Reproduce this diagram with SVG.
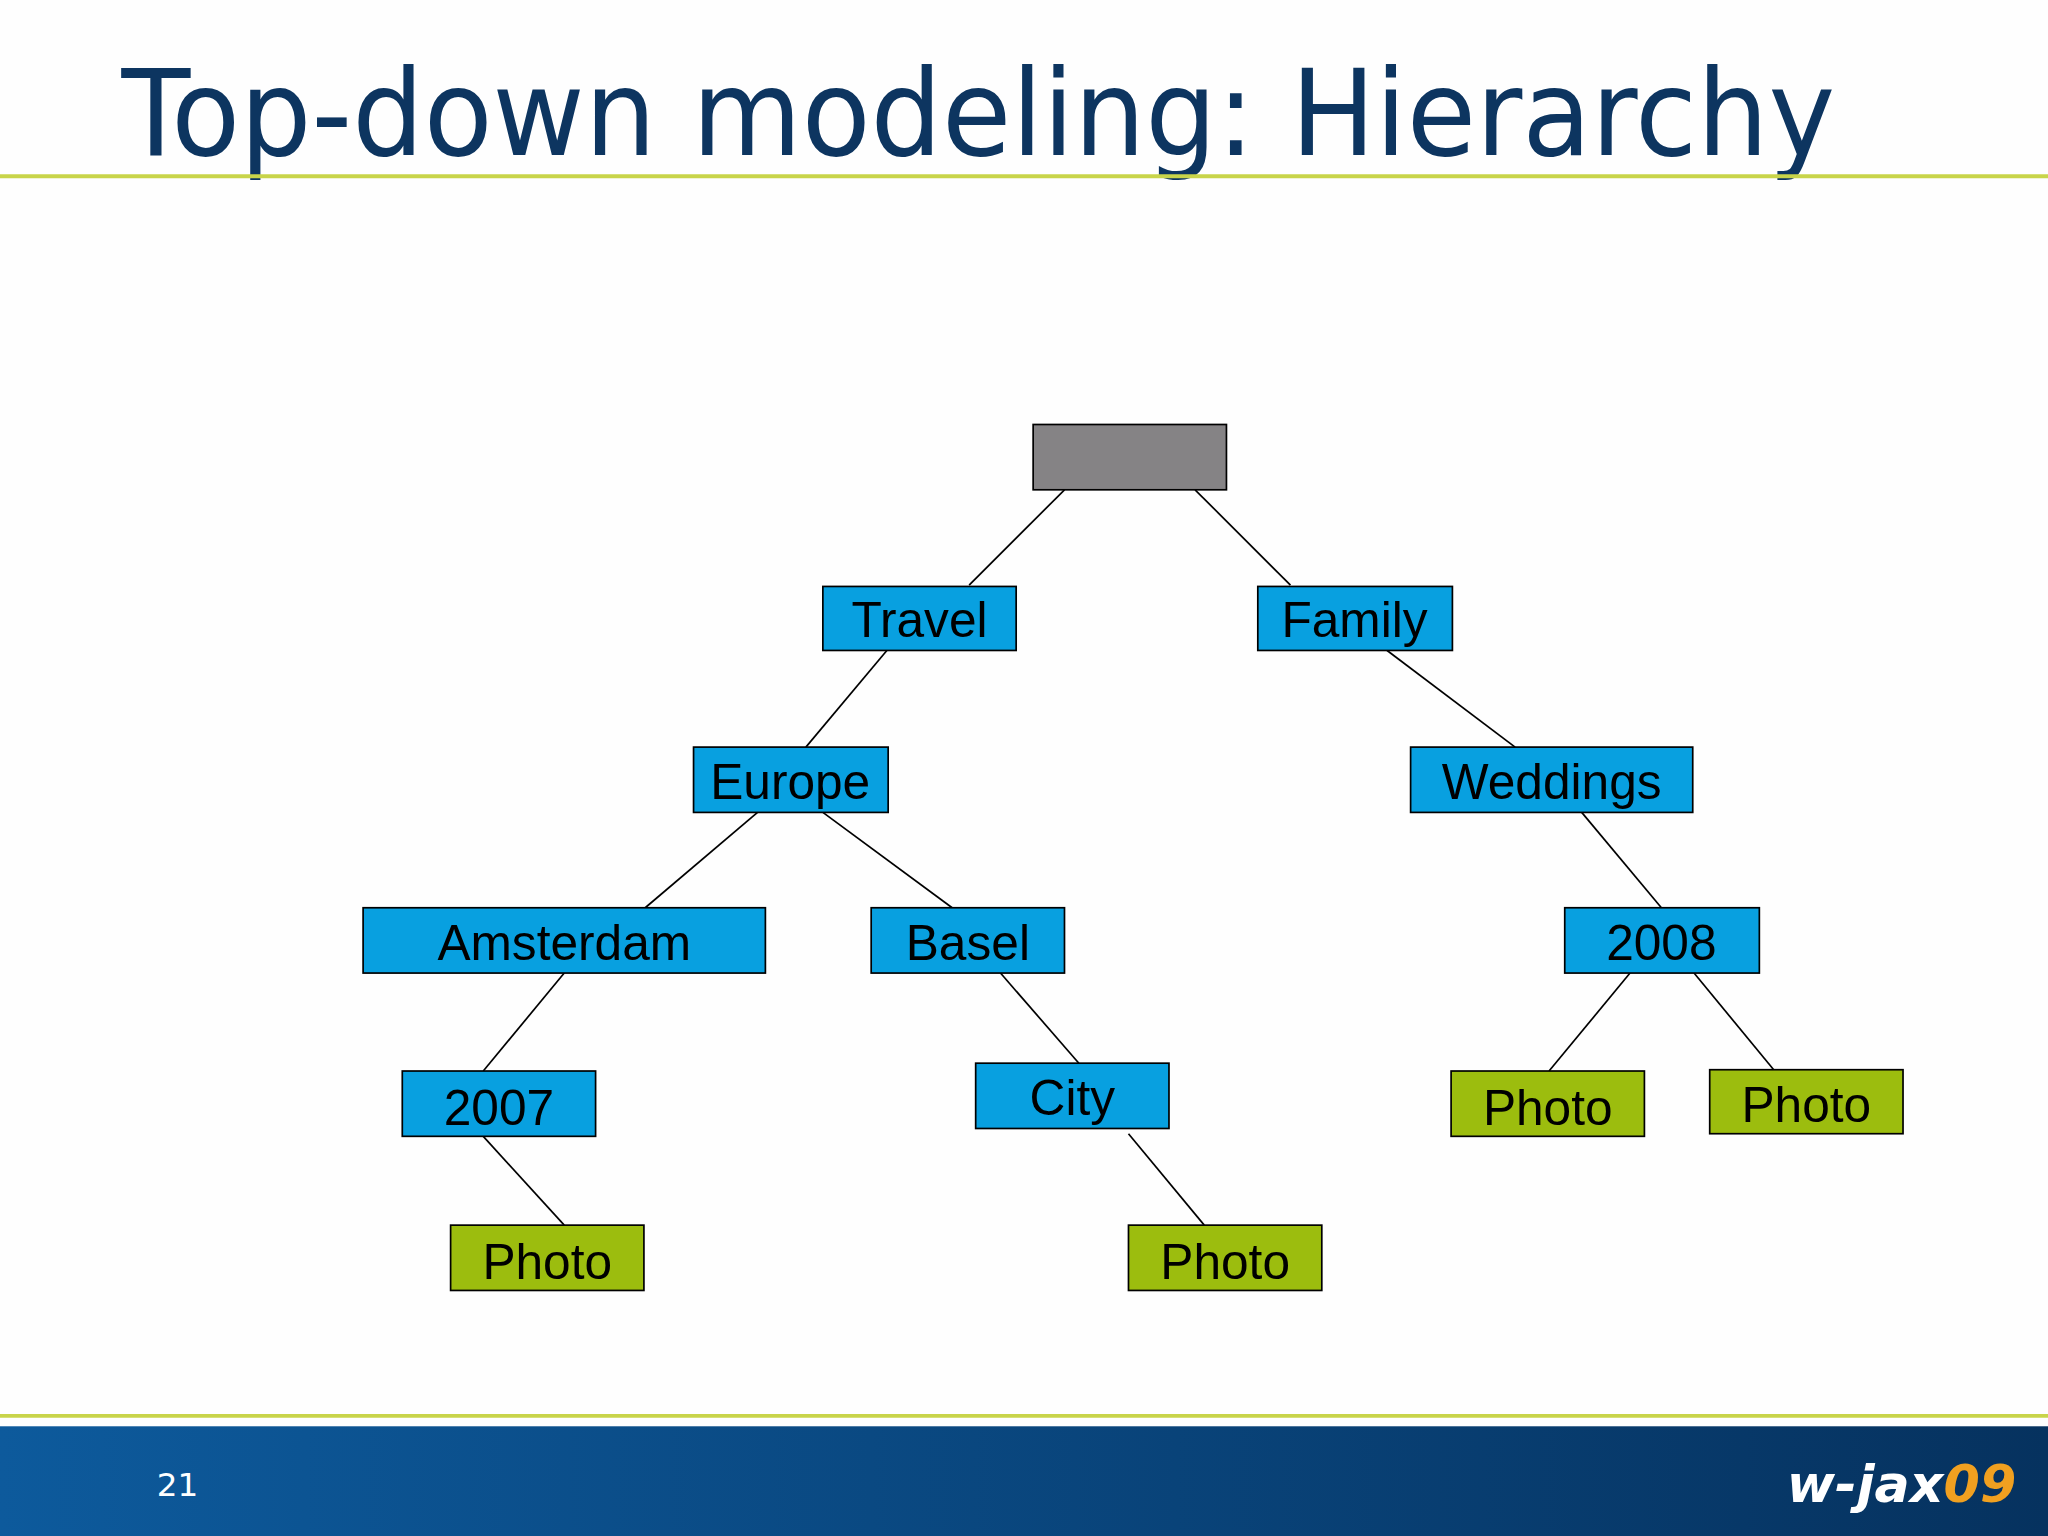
<svg xmlns="http://www.w3.org/2000/svg" width="2048" height="1536" viewBox="0 0 2048 1536">
<defs>
<linearGradient id="band" x1="0" x2="1" y1="0" y2="0"><stop offset="0" stop-color="#0d5a9c"/><stop offset="1" stop-color="#06325f"/></linearGradient>
<style>
.b rect{fill:#08a0e0;stroke:#000;stroke-width:1.3}
.g rect{fill:#9cbd0e;stroke:#000;stroke-width:1.3}
text.t{font-family:"Liberation Sans",Arial,sans-serif;font-size:38px;fill:#000;text-anchor:middle}
#connectors line{stroke:#000;stroke-width:1.3}
</style>
</defs>
<rect width="2048" height="1536" fill="#fefefe"/>
<g transform="scale(1.306122)">
<text x="93" y="119" font-family="DejaVu Sans,Verdana,sans-serif" font-size="92" fill="#0d3560" textLength="1312" lengthAdjust="spacingAndGlyphs">Top-down modeling: Hierarchy</text>
<line x1="0" y1="135" x2="1568" y2="135" stroke="#c8d44a" stroke-width="3"/>
<line x1="0" y1="1084" x2="1568" y2="1084" stroke="#c8d44a" stroke-width="3"/>
<rect x="0" y="1092" width="1568" height="84" fill="url(#band)"/>
<text x="120" y="1145" font-family="DejaVu Sans,sans-serif" font-size="25" fill="#fff">21</text>
<text x="1368" y="1150" font-family="DejaVu Sans,sans-serif" font-weight="bold" font-style="italic" font-size="40" fill="#fff">w-jax<tspan fill="#f0a020">09</tspan></text>
<g id="connectors">
<line x1="815" y1="375" x2="742" y2="448"/><line x1="915" y1="375" x2="988" y2="448"/>
<line x1="679" y1="498" x2="617" y2="572"/><line x1="1062" y1="498" x2="1160" y2="572"/>
<line x1="580" y1="622" x2="494" y2="695"/><line x1="630" y1="622" x2="729" y2="695"/>
<line x1="1211" y1="622" x2="1272" y2="695"/><line x1="432" y1="745" x2="370" y2="820"/>
<line x1="766" y1="745" x2="826" y2="814"/><line x1="1248" y1="745" x2="1186" y2="820"/>
<line x1="1297" y1="745" x2="1358" y2="819"/><line x1="370" y1="870" x2="432" y2="938"/>
<line x1="864" y1="868" x2="922" y2="938"/>
</g>
<g id="root"><rect x="791" y="325" width="148" height="50" fill="#858385" stroke="#000" stroke-width="1.3"/></g>
<g id="travel" class="b"><rect x="630" y="449" width="148" height="49"/><text class="t" x="704" y="488">Travel</text></g>
<g id="family" class="b"><rect x="963" y="449" width="149" height="49"/><text class="t" x="1037" y="488">Family</text></g>
<g id="europe" class="b"><rect x="531" y="572" width="149" height="50"/><text class="t" x="605" y="612">Europe</text></g>
<g id="weddings" class="b"><rect x="1080" y="572" width="216" height="50"/><text class="t" x="1188" y="612">Weddings</text></g>
<g id="amsterdam" class="b"><rect x="278" y="695" width="308" height="50"/><text class="t" x="432" y="735">Amsterdam</text></g>
<g id="basel" class="b"><rect x="667" y="695" width="148" height="50"/><text class="t" x="741" y="735">Basel</text></g>
<g id="y2008" class="b"><rect x="1198" y="695" width="149" height="50"/><text class="t" x="1272" y="735">2008</text></g>
<g id="y2007" class="b"><rect x="308" y="820" width="148" height="50"/><text class="t" x="382" y="861">2007</text></g>
<g id="city" class="b"><rect x="747" y="814" width="148" height="50"/><text class="t" x="821" y="854">City</text></g>
<g id="photo1" class="g"><rect x="345" y="938" width="148" height="50"/><text class="t" x="419" y="979">Photo</text></g>
<g id="photo2" class="g"><rect x="864" y="938" width="148" height="50"/><text class="t" x="938" y="979">Photo</text></g>
<g id="photo3" class="g"><rect x="1111" y="820" width="148" height="50"/><text class="t" x="1185" y="861">Photo</text></g>
<g id="photo4" class="g"><rect x="1309" y="819" width="148" height="49"/><text class="t" x="1383" y="859">Photo</text></g>
</g>
</svg>
